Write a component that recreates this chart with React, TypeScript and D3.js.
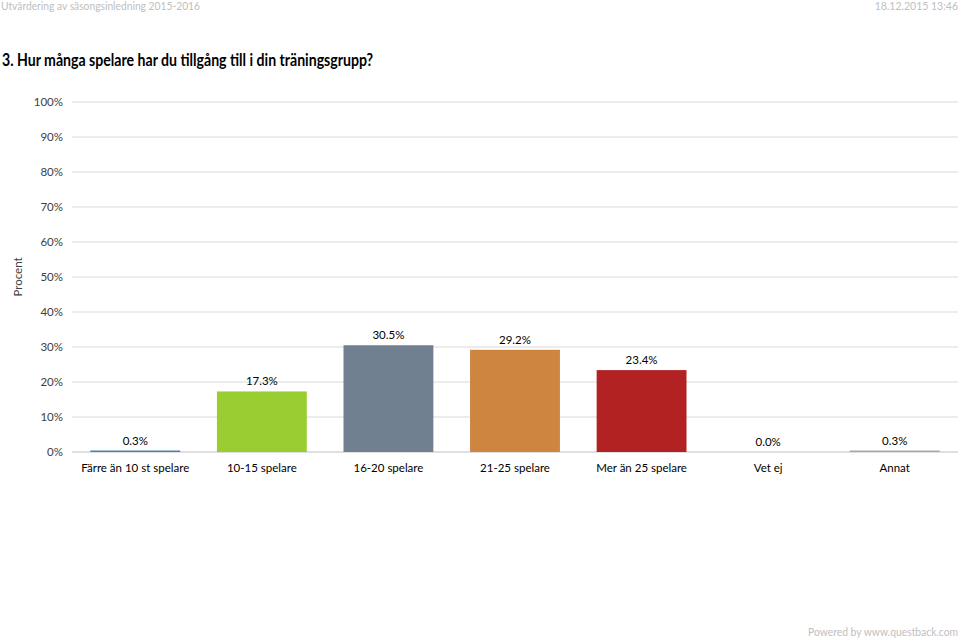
import React from "react";
import * as d3 from "d3";

const categories = [
  "Färre än 10 st spelare",
  "10-15 spelare",
  "16-20 spelare",
  "21-25 spelare",
  "Mer än 25 spelare",
  "Vet ej",
  "Annat",
];
const values = [0.3, 17.3, 30.5, 29.2, 23.4, 0.0, 0.3];
const colors = ["#4f7fb0", "#9acd32", "#708090", "#cd853f", "#b22222", "#8b8b8b", "#a9a9a9"];
const yTicks = [0, 10, 20, 30, 40, 50, 60, 70, 80, 90, 100];

const W = 960;
const H = 640;
const FONT = "Lato, 'Open Sans', sans-serif";

export default function App() {
  const x = d3.scaleBand<string>().domain(categories).range([72, 958]).paddingInner(0.29).paddingOuter(0.145);
  const y = d3.scaleLinear().domain([0, 100]).range([452, 102]);

  return (
    <svg width={W} height={H} style={{ position: "absolute", left: 0, top: 0, background: "#fff" }} fontFamily={FONT}>
      <text x={1} y={10} fontSize={10.5} fill="#c0c0c0" textLength={199} lengthAdjust="spacingAndGlyphs">Utvärdering av säsongsinledning 2015-2016</text>
      <text x={958} y={10} fontSize={10.5} fill="#c0c0c0" textAnchor="end">18.12.2015 13:46</text>
      <text x={2} y={66} fontSize={16.5} fontWeight="bold" fill="#000" textLength={371} lengthAdjust="spacingAndGlyphs">3. Hur många spelare har du tillgång till i din träningsgrupp?</text>

      {yTicks.map((t) => (
        <g key={t}>
          <line x1={72} x2={958} y1={y(t)} y2={y(t)} stroke={t === 0 ? "#bfbfbf" : "#d9d9d9"} strokeWidth={1} />
          <text x={63} y={y(t) + 4} fontSize={11.5} fill="#404040" textAnchor="end">{t}%</text>
        </g>
      ))}
      <text transform={`translate(22,${y(50)}) rotate(-90)`} fontSize={11.5} fill="#404040" textAnchor="middle">Procent</text>

      {categories.map((c, i) => {
        const v = values[i];
        const bx = x(c)!;
        const top = y(v);
        const h = Math.max(0, y(0) - top);
        return (
          <g key={c}>
            {v > 0 && <rect x={bx} y={v < 1 ? y(0) - 1.5 : top} width={x.bandwidth()} height={v < 1 ? 1.5 : h} fill={colors[i]} />}
            <text x={bx + x.bandwidth() / 2} y={top - 6} fontSize={11.5} fill="#000" textAnchor="middle">{v.toFixed(1)}%</text>
            <text x={bx + x.bandwidth() / 2} y={472} fontSize={11.5} fill="#000" textAnchor="middle">{c}</text>
          </g>
        );
      })}

      <text x={958} y={636} fontSize={10.5} fill="#c0c0c0" textAnchor="end" textLength={150} lengthAdjust="spacingAndGlyphs">Powered by www.questback.com</text>
    </svg>
  );
}
